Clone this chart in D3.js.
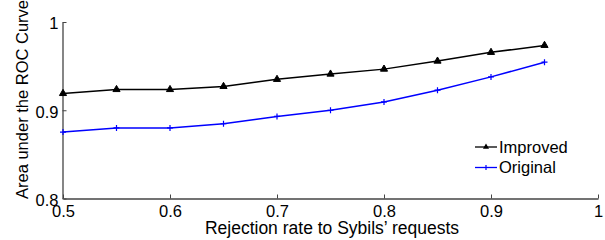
<!DOCTYPE html>
<html><head><meta charset="utf-8">
<script src="https://cdn.jsdelivr.net/npm/d3@7"></script>
<style>body{margin:0;background:#fff}svg{display:block;font-family:Arial,"Liberation Sans",Helvetica,sans-serif}</style>
</head><body><svg id="c" width="605" height="240"></svg>
<script>
const xs = [0.5,0.55,0.6,0.65,0.7,0.75,0.8,0.85,0.9,0.95];
const improved = [0.919,0.9235,0.9235,0.927,0.935,0.941,0.9466,0.9557,0.9656,0.9735];
const original = [0.8753,0.880,0.880,0.8847,0.893,0.900,0.9094,0.9227,0.9378,0.9545];
const xTicks = [0.5,0.6,0.7,0.8,0.9,1];
const yTicks = [0.8,0.9,1];
const xTickLabels = ["0.5","0.6","0.7","0.8","0.9","1"];
const yTickLabels = ["0.8","0.9","1"];
const seriesNames = ["Improved","Original"];
const seriesColors = ["#000000","#0000ff"];

const FS = "16.5px";
const svg = d3.select("#c");
const x = d3.scaleLinear().domain([0.5,1]).range([63,598]);
const y = d3.scaleLinear().domain([0.8,1]).range([198.5,22]);
const axisColor = "#444";

const gx = svg.append("g").attr("transform","translate(0,198.5)")
  .call(d3.axisBottom(x).tickValues(xTicks).tickFormat((d,i)=>xTickLabels[i]).tickSizeInner(-4).tickSizeOuter(0).tickPadding(7));
const gy = svg.append("g").attr("transform","translate(62.5,0)")
  .call(d3.axisLeft(y).tickValues(yTicks).tickFormat((d,i)=>yTickLabels[i]).tickSizeInner(-4).tickSizeOuter(0).tickPadding(4));
[gx,gy].forEach(g=>{
  g.select(".domain").attr("stroke",axisColor).attr("stroke-width",1.3);
  g.selectAll(".tick line").attr("stroke",axisColor);
  g.selectAll("text").attr("fill","#000").style("font-size",FS).style("font-family","Arial, 'Liberation Sans', sans-serif");
});
gy.selectAll("text").attr("dy","0.42em");
gx.selectAll("text").attr("dy","0.71em");

const line = d3.line().x((d,i)=>x(xs[i])).y(d=>y(d));
const data = [improved, original];
data.forEach((vals,k)=>{
  svg.append("path").datum(vals).attr("d",line).attr("fill","none")
    .attr("stroke",seriesColors[k]).attr("stroke-width",1.5);
});
const tri = d3.symbol().type(d3.symbolTriangle).size(22);
svg.selectAll(".m1").data(improved).join("path")
  .attr("transform",(d,i)=>`translate(${x(xs[i])},${y(d)})`)
  .attr("d",tri).attr("fill","#000").attr("stroke","#000").attr("stroke-width",1);
svg.selectAll(".m2").data(original).join("path")
  .attr("transform",(d,i)=>`translate(${x(xs[i])},${y(d)})`)
  .attr("d","M-3,0H3M0,-3V3").attr("stroke","#0000ff").attr("stroke-width",1.2);

// legend
const leg = svg.append("g");
[147,167.5].forEach((ly,k)=>{
  leg.append("line").attr("x1",475).attr("x2",497).attr("y1",ly).attr("y2",ly)
    .attr("stroke",seriesColors[k]).attr("stroke-width",1.3);
  if(k===0) leg.append("path").attr("transform",`translate(486,${ly})`).attr("d",d3.symbol().type(d3.symbolTriangle).size(16)).attr("fill","#000");
  else leg.append("path").attr("transform",`translate(486,${ly})`).attr("d","M0,-2.5V2.5").attr("stroke","#0000ff").attr("stroke-width",1.2);
  leg.append("text").attr("x",499).attr("y",ly).attr("dy","0.36em").style("font-size",FS).text(seriesNames[k]);
});

svg.append("text").attr("x",332).attr("y",233.5).attr("text-anchor","middle").style("font-size","17.5px")
  .text("Rejection rate to Sybils\u2019 requests");
svg.append("text").attr("transform","translate(28,99.5) rotate(-90)").attr("text-anchor","middle").style("font-size",FS)
  .text("Area under the ROC Curve");
</script></body></html>
